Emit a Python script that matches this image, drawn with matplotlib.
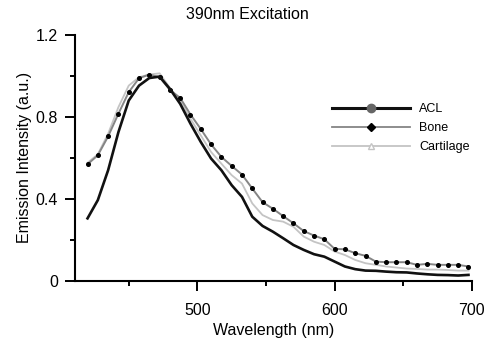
import numpy as np
import matplotlib
matplotlib.use('Agg')
import matplotlib.pyplot as plt
from matplotlib.lines import Line2D

plt.rcParams['font.family'] = ['Liberation Sans', 'DejaVu Sans']

# wavelength grid (nm)
wavelength = np.arange(38) * 7.5 + 420

acl = [0.305, 0.394, 0.54, 0.726, 0.88, 0.953, 0.99, 0.997, 0.937, 0.864,
       0.767, 0.678, 0.597, 0.54, 0.467, 0.41, 0.313, 0.268, 0.24, 0.208,
       0.175, 0.151, 0.13, 0.118, 0.094, 0.07, 0.057, 0.05, 0.049, 0.045,
       0.042, 0.041, 0.036, 0.032, 0.029, 0.028, 0.026, 0.029]

bone = [0.569, 0.613, 0.705, 0.816, 0.921, 0.989, 1.007, 0.994, 0.932, 0.893,
        0.812, 0.741, 0.666, 0.605, 0.561, 0.519, 0.451, 0.384, 0.352, 0.316,
        0.281, 0.243, 0.221, 0.203, 0.156, 0.154, 0.135, 0.122, 0.094, 0.091,
        0.091, 0.091, 0.078, 0.083, 0.078, 0.078, 0.078, 0.070]

cartilage = [0.576, 0.618, 0.718, 0.848, 0.953, 0.994, 1.007, 1.013, 0.942, 0.88,
             0.791, 0.71, 0.629, 0.572, 0.516, 0.475, 0.378, 0.321, 0.297, 0.289,
             0.264, 0.216, 0.191, 0.175, 0.143, 0.126, 0.102, 0.086, 0.078, 0.07,
             0.065, 0.06, 0.058, 0.055, 0.055, 0.053, 0.05, 0.05]

fig = plt.figure(figsize=(4.85, 3.4), dpi=100)
ax = fig.add_axes([0.155, 0.174, 0.818, 0.723])

ax.plot(wavelength, cartilage, color='#c4c4c4', lw=1.3)
ax.plot(wavelength, bone, color='#858585', lw=1.4,
        marker='o', markersize=2.6, markerfacecolor='black', markeredgecolor='black')
ax.plot(wavelength, acl, color='#111111', lw=1.9)

ax.set_xlim(411, 700)
ax.set_ylim(0, 1.2)
ax.set_xticks([500, 600, 700])
ax.set_xticks([450, 550, 650], minor=True)
ax.set_yticks([0, 0.4, 0.8, 1.2])
ax.set_yticklabels(['0', '0.4', '0.8', '1.2'])
ax.set_yticks([0.2, 0.6, 1.0], minor=True)
ax.tick_params(which='major', direction='out', length=7.2, width=1.4, labelsize=11.5)
ax.tick_params(which='minor', direction='out', length=3.8, width=1.4)
ax.tick_params(axis='x', which='major', pad=9)
ax.tick_params(axis='y', which='major', pad=5)

for s in ['top', 'right']:
    ax.spines[s].set_visible(False)
for s in ['left', 'bottom']:
    ax.spines[s].set_linewidth(1.5)

ax.set_xlabel('Wavelength (nm)', fontsize=11.5, labelpad=3)
ax.set_ylabel('Emission Intensity (a.u.)', fontsize=11.5, labelpad=3,
              family=['Liberation Sans Narrow', 'Liberation Sans', 'DejaVu Sans'])
# title sits over the figure centre, not the axes centre
fig.text(0.51, 0.958, '390nm Excitation', fontsize=11.5, ha='center', va='center')

handles = [
    Line2D([], [], color='#111111', lw=2.2, marker='o', markersize=6,
           markerfacecolor='#666666', markeredgecolor='#666666'),
    Line2D([], [], color='#858585', lw=1.3, marker='D', markersize=4.5,
           markerfacecolor='black', markeredgecolor='black'),
    Line2D([], [], color='#c4c4c4', lw=1.3, marker='^', markersize=5,
           markerfacecolor='white', markeredgecolor='#c4c4c4'),
]
fig.legend(handles, ['ACL', 'Bone', 'Cartilage'], loc='upper left',
           bbox_to_anchor=(0.662, 0.73), frameon=False, fontsize=9,
           handlelength=6.2, handletextpad=0.75, labelspacing=0.56)

fig.savefig('out.png', dpi=100)
